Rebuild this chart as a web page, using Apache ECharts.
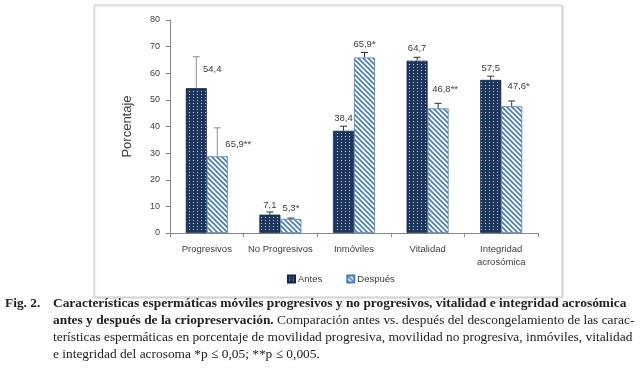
<!DOCTYPE html>
<html>
<head>
<meta charset="utf-8">
<script src="https://cdn.jsdelivr.net/npm/echarts@6/dist/echarts.min.js"></script>
<style>
html,body{margin:0;padding:0;background:#fff;}
#chart{width:643px;height:375px;}
</style>
</head>
<body>
<div id="chart"></div>
<script>
// datos
var categorias = ['Progresivos', 'No Progresivos', 'Inmóviles', 'Vitalidad', 'Integridad\nacrosómica'];
var antes = [54.4, 6.9, 38.4, 64.7, 57.5];
var despues = [28.8, 5.3, 65.9, 46.8, 47.6];
var errAntes = [11.8, 1.0, 1.7, 1.3, 1.4];
var errDespues = [10.7, 0.3, 1.9, 1.9, 2.0];
var etiqAntes = ['54,4', '7,1', '38,4', '64,7', '57,5'];
var etiqDespues = ['65,9**', '5,3*', '65,9*', '46,8**', '47,6*'];

// desplazamiento de etiquetas respecto al extremo de la barra de error (px)
var offAntes = [[16, 13], [0, -7], [0, -8], [0, -9], [0, -8]];
var offDespues = [[21, 17], [0, -10], [0, -8], [7, -14], [7, -15]];

var BAR_W = 21;

//patron de puntos
var fnDots = function() {
	var c = document.createElement('canvas');
	c.width = 4; c.height = 3;
	var ctx = c.getContext('2d');
	ctx.fillStyle = '#1c355e';
	ctx.fillRect(0, 0, 4, 3);
	ctx.fillStyle = 'rgba(255,255,255,0.75)';
	ctx.fillRect(1, 1, 1, 1);
	return c;
};
//patron de rayas
var fnStripes = function() {
	var c = document.createElement('canvas');
	c.width = 5; c.height = 5;
	var ctx = c.getContext('2d');
	ctx.fillStyle = '#ffffff';
	ctx.fillRect(0, 0, 5, 5);
	ctx.strokeStyle = '#4a7ebb';
	ctx.lineWidth = 1.7;
	for (var k = -1; k <= 1; k++) {
		ctx.beginPath();
		ctx.moveTo(k * 5 - 1, -1);
		ctx.lineTo(k * 5 + 6, 6);
		ctx.stroke();
	}
	return c;
};

var fnErrorSeries = function(name, vals, errs, labels, offs, shift) {
	var data = [];
	for (var i = 0; i < vals.length; i++) {
		data.push([i, vals[i], vals[i] + errs[i]]);
	}
	return {
		name: name,
		type: 'custom',
		z: 5,
		encode: {x: 0, y: [1, 2]},
		data: data,
		renderItem: function(params, api) {
			var i = api.value(0);
			var pBar = api.coord([i, api.value(1)]);
			var pTop = api.coord([i, api.value(2)]);
			var x = pBar[0] + shift;
			var col = i === 0 ? '#8c8c8c' : '#333333';
			return {
				type: 'group',
				children: [{
					type: 'line',
					shape: {x1: x, y1: pBar[1], x2: x, y2: pTop[1]},
					style: {stroke: col, lineWidth: 1}
				}, {
					type: 'line',
					shape: {x1: x - 3.5, y1: pTop[1], x2: x + 3.5, y2: pTop[1]},
					style: {stroke: col, lineWidth: 1}
				}, {
					type: 'text',
					style: {
						text: labels[i],
						x: x + offs[i][0],
						y: pTop[1] + offs[i][1],
						align: 'center',
						verticalAlign: 'middle',
						fill: '#404040',
						font: '9.5px "Liberation Sans", sans-serif'
					}
				}]
			};
		}
	};
};

var chart = echarts.init(document.getElementById('chart'));

var cap = '13.4px "Liberation Serif", serif';
var capB = 'bold 13.4px "Liberation Serif", serif';

var option = {
	animation: false,
	textStyle: {fontFamily: 'Liberation Sans'},
	grid: {left: 170, right: 105, top: 20, bottom: 142},
	legend: {
		data: ['Antes', 'Después'],
		left: 282,
		top: 269,
		itemWidth: 7,
		itemHeight: 7,
		itemGap: 24,
		icon: 'rect',
		textStyle: {fontSize: 9.5, color: '#404040', padding: [0, 0, 0, -2]}
	},
	xAxis: {
		type: 'category',
		data: categorias,
		axisLine: {lineStyle: {color: '#868686'}},
		axisTick: {show: true, length: 4, lineStyle: {color: '#868686'}},
		axisLabel: {fontSize: 9.5, color: '#404040', margin: 10, lineHeight: 13, interval: 0}
	},
	yAxis: {
		type: 'value',
		min: 0,
		max: 80,
		interval: 10,
		name: 'Porcentaje',
		nameLocation: 'middle',
		nameGap: 36,
		nameTextStyle: {fontSize: 13, color: '#404040'},
		axisLine: {show: true, lineStyle: {color: '#868686'}},
		axisTick: {show: true, length: 4, lineStyle: {color: '#868686'}},
		axisLabel: {fontSize: 9, color: '#404040', margin: 10},
		splitLine: {show: false}
	},
	series: [{
		name: 'Antes',
		type: 'bar',
		barWidth: BAR_W,
		barGap: '0%',
		data: antes,
		itemStyle: {
			color: {image: fnDots(), repeat: 'repeat'},
			borderColor: '#102544',
			borderWidth: 0.8
		}
	}, {
		name: 'Después',
		type: 'bar',
		barWidth: BAR_W,
		barGap: '0%',
		data: despues,
		itemStyle: {
			color: {image: fnStripes(), repeat: 'repeat'},
			borderColor: '#4a7ebb',
			borderWidth: 0.8
		}
	},
	fnErrorSeries('errAntes', antes, errAntes, etiqAntes, offAntes, -BAR_W / 2),
	fnErrorSeries('errDespues', despues, errDespues, etiqDespues, offDespues, BAR_W / 2)
	],
	graphic: [{
		type: 'rect',
		z: -10,
		shape: {x: 94, y: 5, width: 468, height: 292},
		style: {fill: '#fff', stroke: '#cfcfcf', lineWidth: 1, shadowColor: 'rgba(0,0,0,0.15)', shadowBlur: 2, shadowOffsetX: 1, shadowOffsetY: 1}
	}, {
		type: 'text',
		left: 5, top: 297,
		style: {text: 'Fig. 2.', font: 'bold 13.4px "Liberation Serif", serif', fill: '#222'}
	}, {
		type: 'text',
		left: 53, top: 297,
		style: {text: 'Características espermáticas móviles progresivos y no progresivos, vitalidad e integridad acrosómica', font: capB, fill: '#222'}
	}, {
		type: 'text',
		left: 53, top: 314,
		style: {
			text: '{b|antes y después de la criopreservación.} Comparación antes vs. después del descongelamiento de las carac-',
			font: cap, fill: '#222',
			rich: {b: {font: capB, fill: '#222'}}
		}
	}, {
		type: 'text',
		left: 53, top: 331,
		style: {text: 'terísticas espermáticas en porcentaje de movilidad progresiva, movilidad no progresiva, inmóviles, vitalidad', font: cap, fill: '#222'}
	}, {
		type: 'text',
		left: 53, top: 348,
		style: {text: 'e integridad del acrosoma *p ≤ 0,05; **p ≤ 0,005.', font: cap, fill: '#222'}
	}]
};
chart.setOption(option);
</script>
</body>
</html>
